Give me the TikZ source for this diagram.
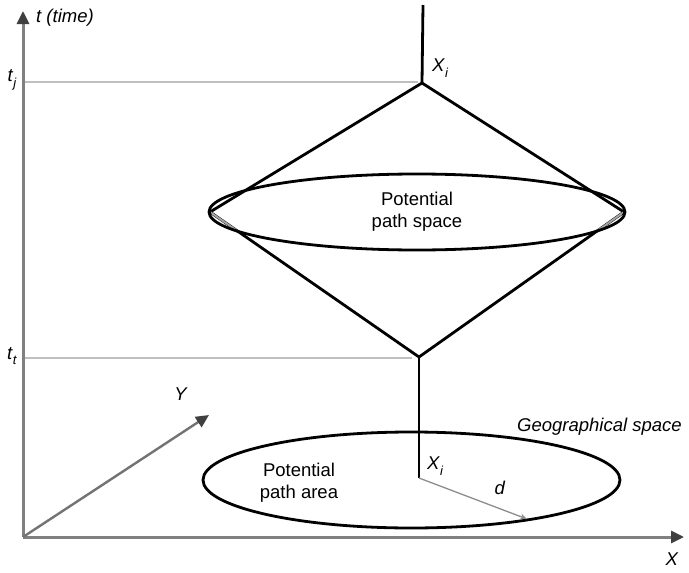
\documentclass[tikz,border=0pt]{standalone}
\usepackage{fontspec}
\setmainfont{Liberation Sans}
\usetikzlibrary{arrows.meta,shapes.geometric}
\newcommand{\lbl}[2]{\textit{#1}\raisebox{-0.3em}{\fontsize{13}{13}\selectfont\textit{#2}}}
\begin{document}
\begin{tikzpicture}[x=1pt,y=-1pt,
  txt/.style={font=\fontsize{18.5}{22}\selectfont, inner sep=0pt, align=center},
  axis/.style={draw=black!50, line width=3pt, -{Triangle[length=13pt,width=12pt,color=black!75]}},
  guide/.style={draw=black!25, line width=2pt},
  thick line/.style={draw=black, line width=2.8pt, line join=round},
  hidden/.style={draw=black!35, line width=2pt}]
\useasboundingbox (0,0) rectangle (689,573);
% coordinates
\coordinate (O) at (23,537);
\coordinate (tT) at (23,11);
\coordinate (xT) at (684,537);
\coordinate (yT) at (209,415);
\coordinate (top) at (422,83);
\coordinate (left) at (210,212);
\coordinate (right) at (624,212);
\coordinate (bot) at (419,357);
\coordinate (up) at (423,5);
\coordinate (xi) at (419,478);
\coordinate (dend) at (527,519);
\coordinate (tjend) at (418,82);
\coordinate (ttend) at (412,358);
\coordinate (tj0) at (25,82);
\coordinate (tt0) at (25,358);
% guide lines
\draw[guide] (tj0) -- (tjend);
\draw[guide] (tt0) -- (ttend);
% axes
\draw[axis] (O) -- (tT);
\draw[axis] (O) -- (xT);
\draw[draw=black!55, line width=2.4pt, -{Triangle[length=13pt,width=12pt,color=black!75]}] (O) -- (yT);
% labels of axes
\node[txt, anchor=west] (tlab) at (36,18) {\textit{t (time)}};
\node[txt] (tjlab) at (12,80) {\lbl{t}{j}};
\node[txt] (ttlab) at (12,356) {\lbl{t}{t}};
\node[txt] (Xlab) at (672,559) {\textit{X}};
\node[txt] (Ylab) at (181,394) {\textit{Y}};
% upper cone
\draw[thick line] (up) -- (top);
\draw[thick line] (left) -- (top) -- (right);
\draw[thick line] (left) -- (bot) -- (right);
\begin{scope}
  \clip (417,212) ellipse [x radius=206, y radius=37];
  \draw[hidden] (left) -- (bot) -- (right);
\end{scope}
\draw[thick line] (417,212) ellipse [x radius=208, y radius=38];
\node[txt] (space) at (417,212) {Potential\\path space};
\node[txt, anchor=west] (xitop) at (432,68) {\lbl{X}{i}};
% lower part
\draw[thick line] (411.5,480) ellipse [x radius=208.5, y radius=48];
\draw[thick line] (bot) -- (xi);
\draw[draw=black!45, line width=1.3pt, -{Stealth[length=7pt,width=6pt]}] (xi) -- (dend);
\node[txt, anchor=west] (xibot) at (427,466) {\lbl{X}{i}};
\node[txt] (dlab) at (500,488) {\textit{d}};
\node[txt] (area) at (299,483) {Potential\\path area};
\node[txt, anchor=west] (geo) at (517,427) {\textit{Geographical space}};
\end{tikzpicture}
\end{document}
